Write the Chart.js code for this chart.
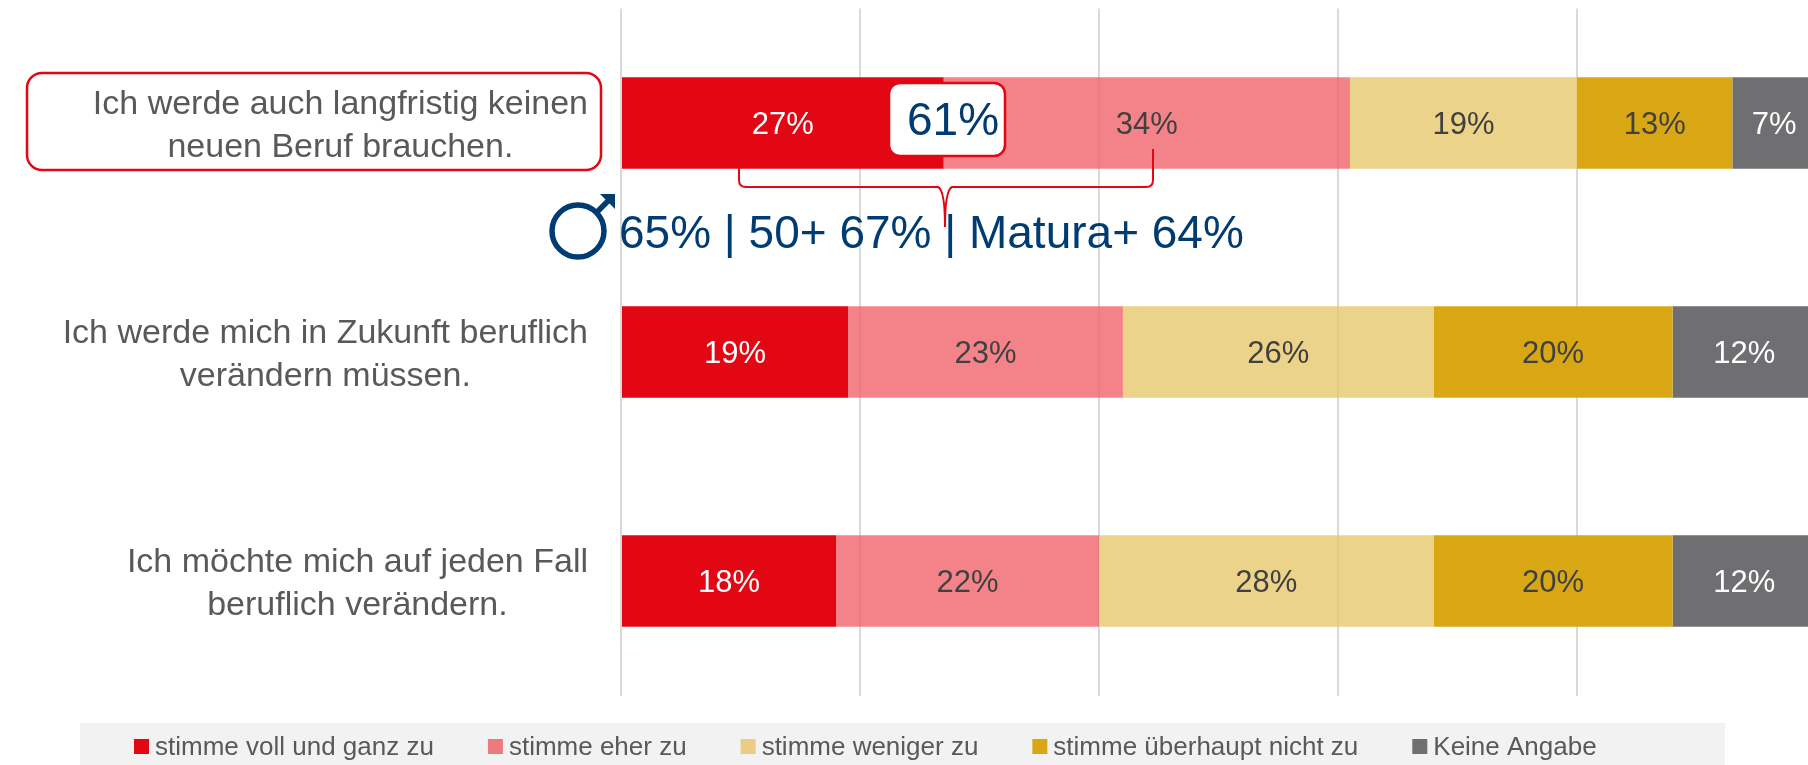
<!DOCTYPE html>
<html lang="de">
<head>
<meta charset="utf-8">
<title>Berufliche Veränderung</title>
<script src="https://cdn.jsdelivr.net/npm/chart.js@4"></script>
<style>
  html, body { margin: 0; background: #fff; overflow: hidden; }
  canvas { display: block; }
</style>
</head>
<body>
<canvas id="myChart" width="1808" height="765"></canvas>
<script>
const categories = [
    ['Ich werde auch langfristig keinen', 'neuen Beruf brauchen.'],
    ['Ich werde mich in Zukunft beruflich', 'verändern müssen.'],
    ['Ich möchte mich auf jeden Fall', 'beruflich verändern.']
];
const seriesNames = ['stimme voll und ganz zu', 'stimme eher zu', 'stimme weniger zu', 'stimme überhaupt nicht zu', 'Keine Angabe'];
const vollUndGanz = [27, 19, 18];
const eherZu = [34, 23, 22];
const wenigerZu = [19, 26, 28];
const ueberhauptNicht = [13, 20, 20];
const keineAngabe = [7, 12, 12];
const xTickStep = 20;
const xVisibleMax = 99.33;
const calloutTotal = '61%';
const calloutLine = '65% | 50+ 67% | Matura+ 64%';

const FONT = '"Liberation Sans", Arial, sans-serif';
const COLOUR_TEXT = '#595959';
const COLOUR_DARK = '#404040';
const COLOUR_RED = '#e30613';
const COLOUR_NAVY = '#003c71';
const COLOURS = [COLOUR_RED, 'rgba(241, 100, 107, 0.8)', 'rgba(230, 201, 109, 0.8)', '#d9a714', '#6f6f72'];
const LEGEND_COLOURS = [COLOUR_RED, '#ee7a80', '#e8cd82', '#d9a714', '#6f6f72'];
const LABEL_COLOURS = ['#fff', COLOUR_DARK, COLOUR_DARK, COLOUR_DARK, '#fff'];

// row labels: right aligned block, lines centred inside it
const rowLabels = {
    id: 'rowLabels',
    afterDraw(chart) {
        const ctx = chart.ctx, y = chart.scales.y;
        ctx.save();
        ctx.font = '34px ' + FONT;
        ctx.fillStyle = COLOUR_TEXT;
        ctx.textAlign = 'center';
        ctx.textBaseline = 'alphabetic';
        // red frame round the first one
        ctx.strokeStyle = COLOUR_RED;
        ctx.lineWidth = 2.5;
        ctx.beginPath();
        ctx.roundRect(27, 73, 574, 97, 15);
        ctx.stroke();
        categories.forEach((lines, i) => {
            const w = Math.max(...lines.map((l) => ctx.measureText(l).width));
            const cx = 588 - w / 2, mid = y.getPixelForValue(i);
            ctx.fillText(lines[0], cx, mid - 9);
            ctx.fillText(lines[1], cx, mid + 34);
        });
        ctx.restore();
    }
};

const barLabels = {
    id: 'barLabels',
    afterDatasetsDraw(chart) {
        const ctx = chart.ctx;
        ctx.save();
        ctx.font = '31px ' + FONT;
        ctx.textAlign = 'center';
        ctx.textBaseline = 'middle';
        chart.data.datasets.forEach((ds, i) => {
            ctx.fillStyle = LABEL_COLOURS[i];
            chart.getDatasetMeta(i).data.forEach((bar, j) => {
                const c = bar.getCenterPoint();
                ctx.fillText(ds.data[j] + '%', c.x, c.y + 2);
            });
        });
        ctx.restore();
    }
};

const callout = {
    id: 'callout',
    afterDraw(chart) {
        const ctx = chart.ctx;
        ctx.save();

        // 61% box
        ctx.fillStyle = '#fff';
        ctx.strokeStyle = COLOUR_RED;
        ctx.lineWidth = 2.5;
        ctx.beginPath();
        ctx.roundRect(889, 83, 116, 73, 11);
        ctx.fill();
        ctx.stroke();
        ctx.fillStyle = COLOUR_NAVY;
        ctx.font = '46px ' + FONT;
        ctx.textAlign = 'center';
        ctx.textBaseline = 'alphabetic';
        ctx.fillText(calloutTotal, 953, 135);

        // breakdown line
        ctx.textAlign = 'left';
        ctx.font = '46px ' + FONT;
        ctx.fillText(calloutLine, 619, 248);

        // male symbol
        ctx.strokeStyle = COLOUR_NAVY;
        ctx.lineWidth = 5.5;
        ctx.beginPath();
        ctx.arc(578, 231, 26, 0, Math.PI * 2);
        ctx.stroke();
        ctx.beginPath();
        ctx.moveTo(597, 212);
        ctx.lineTo(610, 199);
        ctx.stroke();
        ctx.fillStyle = COLOUR_NAVY;
        ctx.beginPath();
        ctx.moveTo(615, 194);
        ctx.lineTo(615, 209);
        ctx.lineTo(600, 194);
        ctx.closePath();
        ctx.fill();

        // brace
        ctx.strokeStyle = COLOUR_RED;
        ctx.lineWidth = 2;
        ctx.beginPath();
        ctx.moveTo(739, 149);
        ctx.lineTo(739, 180);
        ctx.quadraticCurveTo(739, 187, 746, 187);
        ctx.lineTo(938, 187);
        ctx.quadraticCurveTo(945, 190, 945, 227);
        ctx.quadraticCurveTo(945, 190, 952, 187);
        ctx.lineTo(1146, 187);
        ctx.quadraticCurveTo(1153, 187, 1153, 180);
        ctx.lineTo(1153, 149);
        ctx.stroke();
        ctx.restore();
    }
};

const legendBand = {
    id: 'legendBand',
    afterDraw(chart) {
        const ctx = chart.ctx;
        ctx.save();
        ctx.fillStyle = '#f2f2f2';
        ctx.fillRect(80, 723, 1645, 42);
        ctx.font = '26px ' + FONT;
        ctx.textAlign = 'left';
        ctx.textBaseline = 'alphabetic';
        let x = 134;
        seriesNames.forEach((name, i) => {
            ctx.fillStyle = LEGEND_COLOURS[i];
            ctx.fillRect(x, 739, 15, 15);
            ctx.fillStyle = COLOUR_TEXT;
            ctx.fillText(name, x + 21, 755);
            x += 21 + ctx.measureText(name).width + 54;
        });
        ctx.restore();
    }
};

const seriesValues = [vollUndGanz, eherZu, wenigerZu, ueberhauptNicht, keineAngabe];

new Chart(document.getElementById('myChart'), {
    type: 'bar',
    data: {
        labels: categories.map((c) => c.join(' ')),
        datasets: seriesNames.map((name, i) => ({
            label: name,
            data: seriesValues[i],
            backgroundColor: COLOURS[i],
            borderWidth: 0,
            categoryPercentage: 0.4,
            barPercentage: 1
        }))
    },
    options: {
        indexAxis: 'y',
        responsive: false,
        animation: false,
        layout: { padding: { left: 621, right: 0, top: 8.5, bottom: 69.5 } },
        plugins: { legend: { display: false }, tooltip: { enabled: false } },
        scales: {
            x: {
                stacked: true,
                min: 0,
                max: xVisibleMax,
                border: { display: false },
                grid: { color: '#d9d9d9', lineWidth: 2, drawTicks: false },
                ticks: { display: false, stepSize: xTickStep, includeBounds: false }
            },
            y: {
                stacked: true,
                display: false
            }
        }
    },
    plugins: [barLabels, rowLabels, legendBand, callout]
});
</script>
</body>
</html>
